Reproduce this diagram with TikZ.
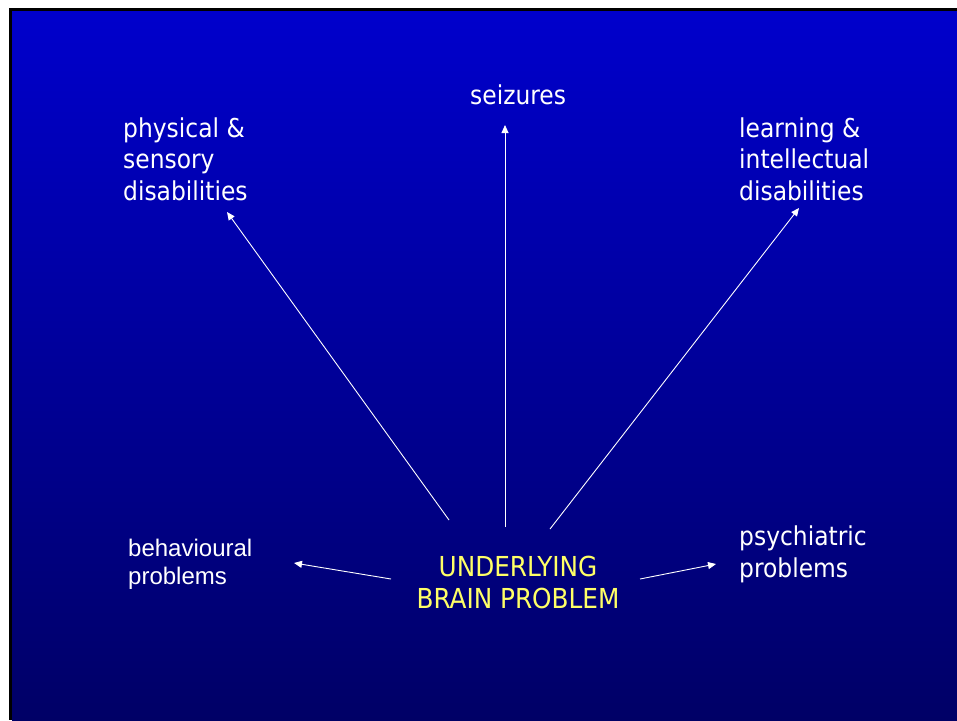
\documentclass[tikz,border=0pt]{standalone}
\usepackage{fontspec}
\setmainfont{DejaVu Sans Condensed}
\newfontfamily\arialfont{Liberation Sans}
\usetikzlibrary{arrows.meta}
\definecolor{slidetop}{RGB}{0,0,204}
\definecolor{slidebot}{RGB}{0,0,102}
\definecolor{titleyellow}{RGB}{255,255,102}
\tikzset{
  lbl/.style={text=white, inner sep=0pt, align=left, anchor=base west,
    font=\fontsize{26}{31.5}\selectfont},
  link/.style={draw=white, line width=0.9pt, -{Triangle[length=8pt,width=7pt]}},
}
\begin{document}
\begin{tikzpicture}[x=1pt,y=-1pt]
            \useasboundingbox (0,0) rectangle (957,720);
            \fill[white] (0,0) rectangle (957,720);
            \fill[black] (9,8) rectangle (957,720);
            \shade[top color=slidetop,bottom color=slidebot] (12,11) rectangle (957,720);
            % outer labels (base = last line)
            \node[lbl] (seiz) at (470,104) {seizures};
            \node[lbl] (phys) at (123,200) {physical \&\\sensory\\disabilities};
            \node[lbl] (learn) at (739,200) {learning \&\\intellectual\\disabilities};
            \node[lbl] (psych) at (739,577) {psychiatric\\problems};
            \node[lbl,font=\arialfont\fontsize{24}{28}\selectfont] (behav) at (128,584) {behavioural\\problems};
            \node[inner sep=0pt,align=center,text=titleyellow,anchor=base,
                  font=\fontsize{27.5}{32}\selectfont] (brain) at (518,608) {UNDERLYING\\BRAIN PROBLEM};
            % arrow ends
            \coordinate (seiztail) at (505,527);  \coordinate (seiztip) at (505,125);
            \coordinate (phystail) at (449,520);  \coordinate (phystip) at (227,212);
            \coordinate (learntail) at (550,529); \coordinate (learntip) at (799,208);
            \coordinate (behavtail) at (391,579); \coordinate (behavtip) at (294,563);
            \coordinate (psychtail) at (640,579); \coordinate (psychtip) at (716,564);
            \foreach \a in {seiz,phys,learn,behav,psych}
            \draw[link] (\a tail) -- (\a tip);
        \end{tikzpicture}
\end{document}
